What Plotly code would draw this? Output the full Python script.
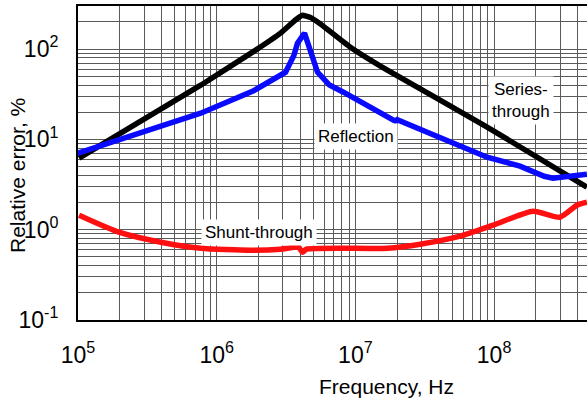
import numpy as np
import plotly.graph_objects as go

# ---- data ----
series_f = [1.017e5, 7.67e5, 1.909e6, 2.887e6, 3.7e6, 4.156e6, 4.7e6, 5.60e6, 9.20e6, 1.70e7, 8.91e7, 4.67e8]
series_e = [6.19, 39.8, 97.2, 150, 210, 237, 225, 190, 105, 58.4, 13.7, 2.96]

refl_f = [9.51e4, 7.67e5, 1.846e6, 3.136e6, 3.6e6, 3.824e6, 4.297e6, 4.746e6, 5.33e6, 6.5e6, 8.20e6,
          1.94e7, 2.0e7, 8.91e7, 1.539e8, 2.3e8, 2.658e8, 4.67e8]
refl_e = [6.86, 19.5, 34.6, 55.5, 85, 116, 150, 90.1, 55.5, 40, 33.3,
          15.9, 16.5, 6.35, 5.05, 3.9, 3.72, 4.12]

shunt_f = [1.017e5, 1.972e5, 3.955e5, 7.67e5, 1.756e6, 2.887e6, 3.889e6, 4.156e6, 4.44e6,
           1.70e7, 2.935e7, 5.69e7, 9.83e7, 1.909e8, 2.985e8, 3.955e8, 4.67e8]
shunt_e = [1.447, 0.938, 0.727, 0.624, 0.593, 0.608, 0.640, 0.563, 0.608,
           0.624, 0.691, 0.847, 1.121, 1.603, 1.375, 1.867, 2.016]

x_decades = [5, 6, 7, 8]
y_decades = [-1, 0, 1, 2]
x_ticktext = ["10<sup>5</sup>", "10<sup>6</sup>", "10<sup>7</sup>", "10<sup>8</sup>"]
y_ticktext = ["10<sup>-1</sup>", "10<sup>0</sup>", "10<sup>1</sup>", "10<sup>2</sup>"]

labels = ["Series-<br>through", "Reflection", "Shunt-through"]
label_pos = [(8.194, 1.436), (7.004, 1.037), (6.305, -0.026)]

FONT = "Arial, Liberation Sans, sans-serif"

def minor_vals(decades, extra):
    vals = []
    for d in list(decades) + [extra]:
        for k in range(2, 10):
            vals.append(k * 10.0 ** d)
    return vals

fig = go.Figure()
fig.add_trace(go.Scatter(x=series_f, y=series_e, mode="lines",
                         line=dict(color="black", width=5.5, shape="spline", smoothing=0.3),
                         showlegend=False))
fig.add_trace(go.Scatter(x=refl_f, y=refl_e, mode="lines",
                         line=dict(color="#0a0aff", width=5.5),
                         showlegend=False))
fig.add_trace(go.Scatter(x=shunt_f, y=shunt_e, mode="lines",
                         line=dict(color="#ff1010", width=5.5, shape="spline", smoothing=0.6),
                         showlegend=False))

for txt, (lx, ly) in zip(labels, label_pos):
    fig.add_annotation(x=lx, y=ly, xref="x", yref="y", text=txt, showarrow=False,
                       font=dict(family=FONT, size=17, color="black"),
                       bgcolor="white", borderpad=3)

fig.add_annotation(x=0, y=0.4586, xref="paper", yref="paper", xshift=-60,
                   text="Relative error, %", textangle=-90, showarrow=False,
                   font=dict(family=FONT, size=21, color="black"),
                   xanchor="center", yanchor="middle")
fig.add_annotation(x=0.607, y=0, xref="paper", yref="paper", yshift=-66,
                   text="Frequency, Hz", showarrow=False,
                   font=dict(family=FONT, size=21, color="black"),
                   xanchor="center", yanchor="middle")

grid = "#5a5a5a"
fig.update_xaxes(type="log", range=[5, 8.67], automargin=False,
                 tickmode="array", tickvals=[10.0 ** d for d in x_decades], ticktext=x_ticktext,
                 tickfont=dict(family=FONT, size=23, color="black"),
                 ticklabelstandoff=13,
                 showgrid=True, gridcolor=grid, gridwidth=1,
                 minor=dict(tickmode="array", tickvals=minor_vals(x_decades, 4),
                            showgrid=True, gridcolor=grid, gridwidth=1),
                 showline=True, linecolor="black", linewidth=2, mirror=True,
                 ticks="", zeroline=False)
fig.update_yaxes(type="log", range=[-1, 2.477], automargin=False,
                 tickmode="array", tickvals=[10.0 ** d for d in y_decades], ticktext=y_ticktext,
                 tickfont=dict(family=FONT, size=23, color="black"),
                 ticklabelstandoff=13,
                 showgrid=True, gridcolor=grid, gridwidth=1,
                 minor=dict(tickmode="array", tickvals=minor_vals(y_decades, -2),
                            showgrid=True, gridcolor=grid, gridwidth=1),
                 showline=True, linecolor="black", linewidth=2, mirror=False,
                 ticks="", zeroline=False)

fig.update_layout(width=587, height=402,
                  margin=dict(l=78, r=0, t=6, b=82),
                  paper_bgcolor="white", plot_bgcolor="white",
                  font=dict(family=FONT, color="black"))

fig.write_html("out.html", config={"displayModeBar": False},
               post_script="document.body.style.margin='0';document.body.style.overflow='hidden';")
